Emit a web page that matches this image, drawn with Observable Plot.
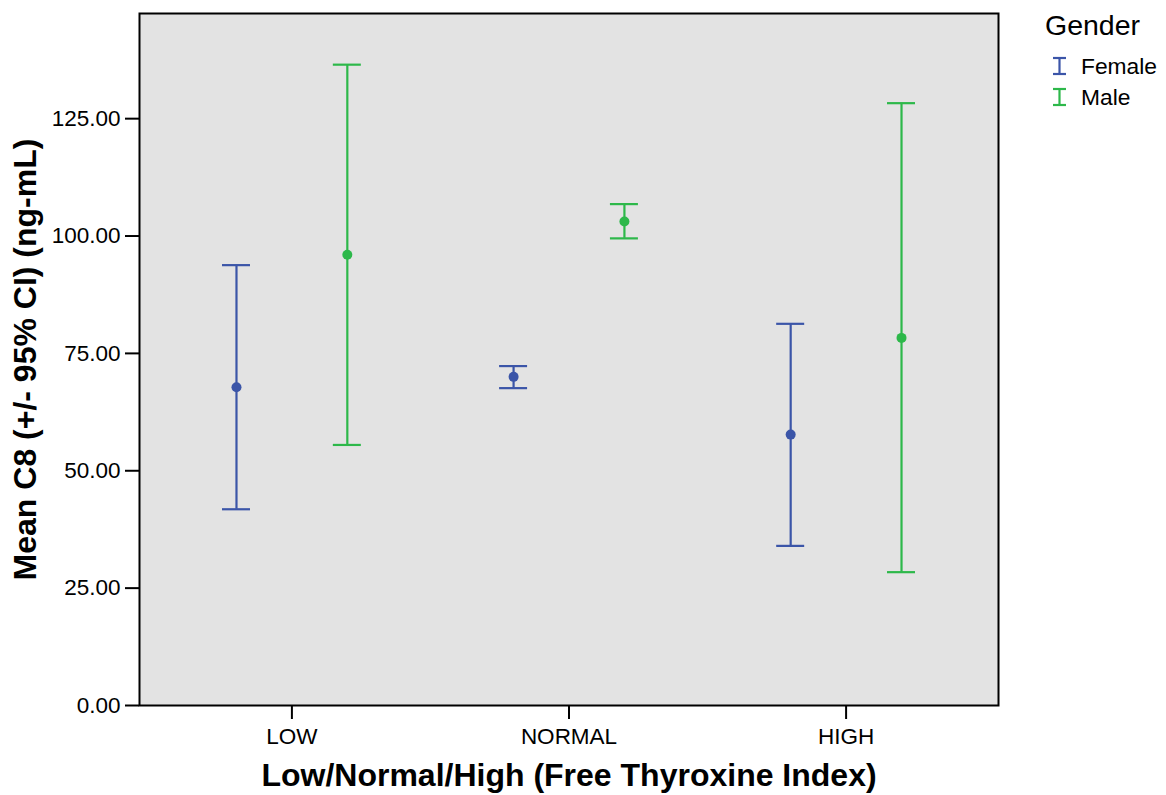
<!DOCTYPE html>
<html>
<head>
<meta charset="utf-8">
<script src="https://cdn.jsdelivr.net/npm/d3@7"></script>
<script src="https://cdn.jsdelivr.net/npm/@observablehq/plot@0.6"></script>
<style>
  body { margin: 0; background: #fff; font-family: "Liberation Sans", Arial, sans-serif; }
  #wrap { position: relative; width: 1166px; height: 795px; }
  #legend { position: absolute; left: 1040px; top: 0px; }
</style>
</head>
<body>
<div id="wrap"></div>
<script>
const categories = ["LOW", "NORMAL", "HIGH"];
const genders = ["Female", "Male"];
const colors = ["#3B55A8", "#2DB84A"];
const meanFemale  = [67.8, 70.0, 57.7];
const lowerFemale = [41.8, 67.6, 34.0];
const upperFemale = [93.8, 72.3, 81.3];
const meanMale    = [96.0, 103.1, 78.3];
const lowerMale   = [55.5, 99.5, 28.4];
const upperMale   = [136.5, 106.8, 128.3];
const yTicks = [0, 25, 50, 75, 100, 125];
const xTitle = "Low/Normal/High (Free Thyroxine Index)";
const yTitle = "Mean C8 (+/- 95% CI) (ng-mL)";
const legendTitle = "Gender";
const dodge = 0.2;

const rows = [];
categories.forEach((c, i) => {
  rows.push({cat: c, ci: i, gender: "Female", mean: meanFemale[i], lo: lowerFemale[i], hi: upperFemale[i]});
  rows.push({cat: c, ci: i, gender: "Male", mean: meanMale[i], lo: lowerMale[i], hi: upperMale[i]});
});
const xpos = d => d.ci + (d.gender === "Female" ? -dodge : dodge);

const chart = Plot.plot({
  width: 1166,
  height: 795,
  marginLeft: 139,
  marginRight: 168,
  marginTop: 13,
  marginBottom: 90,
  style: {fontFamily: "'Liberation Sans', Arial, sans-serif", fontSize: "22.5px", color: "#000", background: "transparent"},
  x: {domain: [-0.55, 2.55]},
  y: {domain: [0, 147.4]},
  color: {domain: genders, range: colors},
  marks: [
    Plot.frame({fill: "#E3E3E3", stroke: null}),
    Plot.axisY({ticks: yTicks, tickFormat: d3.format(".2f"), tickSize: 14, tickPadding: 5, strokeWidth: 2, fontSize: 22.5, label: null}),
    Plot.axisX({ticks: [0, 1, 2], tickFormat: i => categories[i], tickSize: 14, tickPadding: 9, strokeWidth: 2, fontSize: 22.5, label: null}),
    Plot.text([yTitle], {frameAnchor: "left", textAnchor: "middle", rotate: -90, dx: -114,
      fontWeight: "bold", fontSize: 32, text: d => d}),
    Plot.text([xTitle], {frameAnchor: "bottom", textAnchor: "middle", dy: 80,
      fontWeight: "bold", fontSize: 32, text: d => d}),
    Plot.ruleX(rows, {x: xpos, y1: "lo", y2: "hi", stroke: "gender", strokeWidth: 2.2}),
    Plot.ruleY(rows, {x1: xpos, x2: xpos, y: "lo", stroke: "gender", strokeWidth: 2.2, insetLeft: -14, insetRight: -14}),
    Plot.ruleY(rows, {x1: xpos, x2: xpos, y: "hi", stroke: "gender", strokeWidth: 2.2, insetLeft: -14, insetRight: -14}),
    Plot.dot(rows, {x: xpos, y: "mean", fill: "gender", r: 5}),
    Plot.frame({stroke: "#000", strokeWidth: 2})
  ]
});
document.getElementById("wrap").appendChild(chart);

// legend
const lg = d3.select("#wrap").append("svg").attr("id", "legend").attr("width", 126).attr("height", 120)
  .style("font-family", "'Liberation Sans', Arial, sans-serif");
lg.append("text").attr("x", 5).attr("y", 35).attr("font-size", 28.5).text(legendTitle);
genders.forEach((g, i) => {
  const base = 74 + i * 31;
  const gi = lg.append("g").attr("stroke", colors[i]).attr("stroke-width", 2.2);
  gi.append("line").attr("x1", 13).attr("x2", 26).attr("y1", base - 16).attr("y2", base - 16);
  gi.append("line").attr("x1", 13).attr("x2", 26).attr("y1", base).attr("y2", base);
  gi.append("line").attr("x1", 19.5).attr("x2", 19.5).attr("y1", base - 16).attr("y2", base);
  lg.append("text").attr("x", 41).attr("y", base).attr("font-size", 22.8).text(g);
});
</script>
</body>
</html>
